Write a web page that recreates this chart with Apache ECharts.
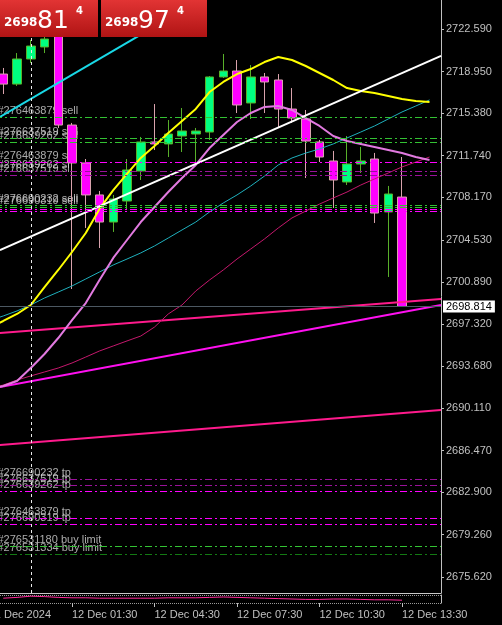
<!DOCTYPE html>
<html>
<head>
<meta charset="utf-8">
<title>XAUUSD M30</title>
<script src="https://cdn.jsdelivr.net/npm/echarts@6/dist/echarts.min.js"></script>
<style>
  html, body { margin: 0; padding: 0; background: #000; }
  #chart { width: 502px; height: 625px; }
</style>
</head>
<body>
<div id="chart"></div>
<script>
// bar index 0 = 11 Dec 22:30, one bar every 30 minutes
var barIdx = [1, 2, 3, 4, 5, 6, 7, 8, 9, 10, 11, 12, 13, 14, 15, 16, 17, 18, 19, 20, 21, 22, 23, 24, 25, 26, 27, 28, 29, 30]
var opens = [2718.73, 2717.87, 2720.02, 2721.05, 2721.99, 2714.36, 2711.11, 2708.37, 2706.05, 2707.85, 2710.42, 2712.91, 2712.74, 2713.42, 2713.59, 2713.76, 2718.48, 2718.99, 2716.25, 2718.48, 2718.22, 2715.73, 2714.88, 2712.91, 2711.28, 2709.48, 2711.02, 2711.45, 2706.91, 2708.19]
var closes = [2717.87, 2720.02, 2721.13, 2721.73, 2714.36, 2711.11, 2708.37, 2706.05, 2708.02, 2710.51, 2712.91, 2712.74, 2713.59, 2713.85, 2713.85, 2718.48, 2718.99, 2716.08, 2718.48, 2718.05, 2715.73, 2714.96, 2712.99, 2711.62, 2709.65, 2711.02, 2711.28, 2706.82, 2708.45, 2698.814]
var lows = [2717.02, 2717.71, 2719.68, 2720.53, 2714.11, 2700.31, 2705.54, 2703.82, 2705.20, 2707.08, 2709.65, 2712.22, 2711.62, 2712.05, 2711.11, 2713.08, 2718.39, 2715.39, 2714.88, 2715.39, 2714.19, 2714.54, 2709.82, 2711.19, 2707.25, 2709.22, 2710.25, 2705.97, 2701.34, 2698.814]
var highs = [2719.25, 2720.53, 2721.65, 2721.99, 2722.50, 2714.54, 2711.45, 2708.71, 2708.37, 2711.45, 2713.34, 2716.16, 2714.79, 2715.82, 2714.11, 2718.56, 2720.45, 2719.93, 2719.50, 2718.82, 2718.73, 2717.53, 2715.65, 2713.08, 2712.14, 2713.42, 2712.48, 2711.97, 2709.14, 2711.62]

// moving averages (drawn 2 bars ahead of price)
var maIdx = [0, 1, 2, 3, 4, 5, 6, 7, 8, 9, 10, 11, 12, 13, 14, 15, 16, 17, 18, 19, 20, 21, 22, 23, 24, 25, 26, 27, 28, 29, 30, 31, 32]
var maYellow = [2697.0, 2697.57, 2698.17, 2698.94, 2700.48, 2701.94, 2703.48, 2705.11, 2707.17, 2708.79, 2710.17, 2711.54, 2712.56, 2713.68, 2714.71, 2715.74, 2717.19, 2718.05, 2718.73, 2719.16, 2719.76, 2720.19, 2719.93, 2719.42, 2718.82, 2718.22, 2717.53, 2717.28, 2717.11, 2716.85, 2716.59, 2716.42, 2716.34]
var maViolet = [2691.7, 2692.00, 2692.43, 2693.54, 2694.74, 2696.11, 2697.65, 2699.11, 2701.08, 2702.97, 2704.51, 2706.05, 2707.34, 2708.62, 2709.82, 2710.94, 2712.39, 2713.51, 2714.62, 2715.39, 2715.91, 2715.99, 2715.65, 2714.96, 2714.28, 2713.42, 2712.99, 2712.74, 2712.48, 2712.22, 2711.96, 2711.62, 2711.36]
var maTeal = [2697.6, 2698.00, 2698.43, 2698.94, 2699.54, 2700.05, 2700.57, 2701.17, 2701.77, 2702.37, 2702.88, 2703.40, 2704.00, 2704.68, 2705.37, 2706.05, 2706.91, 2707.68, 2708.37, 2709.14, 2709.99, 2710.94, 2711.54, 2711.96, 2712.31, 2712.74, 2713.25, 2713.76, 2714.28, 2714.88, 2715.48, 2715.99, 2716.51]
var maCrimson = [2691.8, 2692.08, 2692.51, 2692.86, 2693.20, 2693.54, 2693.97, 2694.48, 2695.00, 2695.43, 2695.86, 2696.28, 2697.05, 2698.17, 2698.94, 2700.14, 2701.08, 2701.94, 2702.88, 2703.74, 2704.60, 2705.54, 2706.40, 2706.99, 2707.59, 2708.11, 2708.62, 2709.22, 2709.74, 2710.25, 2710.77, 2711.19, 2711.62]

// small oscillator sub-window
var oscValues = [6, 7, 8.5, 8, 7, 6.5, 6.5, 6, 6, 6, 6, 6, 6.5, 6.5, 6.5, 7, 7.5, 7, 6.5, 6, 5.5, 5, 4.5, 4.5, 5, 5, 4.5, 4, 4, 3.5]

var priceTicks = [2722.590, 2718.950, 2715.380, 2711.740, 2708.170, 2704.530, 2700.890, 2697.320, 2693.680, 2690.110, 2686.470, 2682.900, 2679.260, 2675.620]
var timeTickIdx = [0, 6, 12, 18, 24, 30]
var timeLabels = ['11 Dec 2024', '12 Dec 01:30', '12 Dec 04:30', '12 Dec 07:30', '12 Dec 10:30', '12 Dec 13:30']
var separatorIdx = 3

var bid = 2698.814
var ask = 2698.974

// trend lines: [barIdx, price] pairs
var trendWhite = [[0.76, 2703.65], [32.84, 2720.28]]
var trendCyan = [[0.76, 2715.05], [15.31, 2725.07]]
var trendPinkUpper = [[0.76, 2696.54], [32.84, 2699.45]]
var trendMagenta = [[0.76, 2691.91], [32.84, 2698.94]]
var trendPinkLower = [[0.76, 2686.94], [32.84, 2689.94]]

// order levels
var orderPrices = [2715.05, 2713.25, 2712.91, 2711.19, 2710.42, 2710.08, 2707.51, 2707.34, 2707.17, 2707.00, 2684.03, 2683.52, 2683.00, 2680.69, 2680.17, 2678.29, 2677.60]
var orderNames = ['#276463879 sell', '#276637519 sell', '#276639262 sell', '#276463879 sl', '#276639262 sl', '#276637519 sl',
  '#276690232 sell', '#276690319 sell', '', '', '#276690232 tp', '#276637519 tp', '#276639262 tp', '#276463879 tp',
  '#276690319 tp', '#276531180 buy limit', '#276531334 buy limit']
var orderKinds = ['open', 'open', 'open', 'stop', 'stopDim', 'stopDim', 'open', 'open', 'stop', 'stop',
  'stopDim', 'stopDim', 'stop', 'stop', 'stop', 'open', 'limit']

var kindColors = { open: '#33c233', stop: '#ff00ff', stopDim: '#9a129a', limit: '#137a13' }
var dashDot = [7, 3, 2, 3]
var font = 'Liberation Sans'
var axisGray = '#c0c0c0'

var xMin = -0.691
var xMax = 32.836

var candles = barIdx.map(function (b, k) {
  return [b, opens[k], closes[k], lows[k], highs[k]]
})

function pairs (ys) {
  return maIdx.map(function (b, k) { return [b, ys[k]] })
}

function maLine (name, ys, color, width) {
  return {
    name: name,
    type: 'line',
    data: pairs(ys),
    showSymbol: false,
    symbol: 'none',
    z: 4,
    lineStyle: { color: color, width: width }
  }
}

function trend (name, pts, color) {
  return {
    name: name,
    type: 'line',
    data: pts,
    showSymbol: false,
    symbol: 'none',
    z: 4,
    lineStyle: { color: color, width: 2 }
  }
}

var chart = echarts.init(document.getElementById('chart'))

var redBox = new echarts.graphic.LinearGradient(0, 0, 0, 1, [
  { offset: 0, color: '#e23434' },
  { offset: 1, color: '#b01414' }
])

function quoteParts (v) {
  var s = v.toFixed(3)
  return [s.slice(0, 4), s.slice(5, 7), s.slice(7)]
}

function quoteBox (v, x0, w) {
  var p = quoteParts(v)
  return [
    { type: 'rect', x: x0, y: 0, shape: { width: w, height: 37 }, style: { fill: redBox }, z: 100 },
    { type: 'text', x: x0 + 4, y: 23, z: 101, style: { text: p[0], fill: '#fff', font: 'bold 12px "DejaVu Sans"', verticalAlign: 'middle' } },
    { type: 'text', x: x0 + 37, y: 21, z: 101, style: { text: p[1], fill: '#fff', font: '25px "DejaVu Sans"', verticalAlign: 'middle' } },
    { type: 'text', x: x0 + 76, y: 11, z: 101, style: { text: p[2], fill: '#fff', font: 'bold 10px "DejaVu Sans"', verticalAlign: 'middle' } }
  ]
}

var option = {
  backgroundColor: '#000',
  animation: false,
  grid: [
    { left: -20, right: 61, top: 0, bottom: 32, outerBoundsMode: 'none', containLabel: false },
    { left: -20, right: 61, top: 595, height: 8, outerBoundsMode: 'none', containLabel: false }
  ],
  xAxis: [
    {
      type: 'value',
      gridIndex: 0,
      min: xMin,
      max: xMax,
      axisLine: { show: true, onZero: false, lineStyle: { color: '#c8c8c8', width: 1 } },
      axisTick: { show: false },
      axisLabel: { show: false },
      splitLine: { show: false }
    },
    {
      type: 'value',
      gridIndex: 1,
      min: xMin,
      max: xMax,
      axisLine: { show: false, onZero: false },
      axisTick: { show: true, customValues: timeTickIdx, length: 4, lineStyle: { color: axisGray } },
      axisLabel: {
        show: true,
        customValues: timeTickIdx,
        margin: 6,
        align: 'left',
        color: axisGray,
        fontSize: 11,
        fontFamily: font,
        formatter: function (v) {
          var k = timeTickIdx.indexOf(Math.round(v))
          return k < 0 ? '' : timeLabels[k]
        }
      },
      splitLine: { show: false }
    }
  ],
  yAxis: [
    {
      type: 'value',
      gridIndex: 0,
      position: 'right',
      min: 2674.261,
      max: 2725.075,
      axisLine: { show: true, onZero: false, lineStyle: { color: axisGray } },
      axisTick: { show: true, customValues: priceTicks, length: 3, lineStyle: { color: axisGray } },
      axisLabel: {
        customValues: priceTicks,
        margin: 5,
        color: axisGray,
        fontSize: 11,
        fontFamily: font,
        formatter: function (v) { return v.toFixed(3) }
      },
      splitLine: { show: false }
    },
    {
      type: 'value',
      gridIndex: 1,
      position: 'right',
      min: 0,
      max: 10,
      interval: 10,
      axisLine: { show: true, onZero: false, lineStyle: { color: axisGray } },
      axisTick: { show: false },
      axisLabel: { show: false },
      splitLine: { show: true, lineStyle: { color: '#9a9a9a', type: [1, 1] } }
    }
  ],
  series: [
    {
      name: 'orders',
      type: 'scatter',
      data: orderPrices.map(function (p) { return [0.545, p] }),
      symbolSize: 1,
      itemStyle: { color: 'rgba(0,0,0,0)' },
      z: 1,
      label: {
        show: true,
        position: 'right',
        distance: 0,
        offset: [0, -6],
        color: '#d6d6d6',
        fontSize: 11,
        fontFamily: font,
        formatter: function (prm) { return orderNames[prm.dataIndex] }
      },
      markLine: {
        silent: true,
        symbol: ['none', 'none'],
        label: { show: false },
        data: orderPrices.map(function (p, k) {
          return { yAxis: p, lineStyle: { color: kindColors[orderKinds[k]], type: dashDot, width: 1 } }
        })
      }
    },
    trend('pink upper', trendPinkUpper, '#ff1a8c'),
    trend('magenta', trendMagenta, '#ff10f0'),
    trend('pink lower', trendPinkLower, '#ff1a8c'),
    {
      name: 'XAUUSD',
      type: 'candlestick',
      data: candles,
      barWidth: 9,
      z: 3,
      itemStyle: {
        color: '#00ff80',
        color0: '#ff00ff',
        borderColor: '#58b02a',
        borderColor0: '#d9a3ad',
        borderWidth: 1
      },
      markLine: {
        silent: true,
        symbol: ['none', 'none'],
        data: [
          {
            yAxis: bid,
            lineStyle: { color: '#4c5862', type: 'solid', width: 1 },
            label: {
              show: true,
              position: 'end',
              distance: 2,
              formatter: bid.toFixed(3),
              backgroundColor: '#fff',
              color: '#000',
              padding: [1, 3, 0, 3],
              fontSize: 11,
              fontFamily: font
            }
          },
          {
            xAxis: separatorIdx,
            lineStyle: { color: '#e8e8e8', type: [3, 3], width: 1 },
            label: { show: false }
          }
        ]
      }
    },
    maLine('MA teal', maTeal, '#1fb0bd', 1),
    maLine('MA crimson', maCrimson, '#c4186c', 1),
    maLine('MA violet', maViolet, '#e27ae0', 2),
    maLine('MA yellow', maYellow, '#ffff00', 2),
    trend('white', trendWhite, '#ffffff'),
    trend('cyan', trendCyan, '#19d8e6'),
    {
      name: 'osc',
      type: 'line',
      xAxisIndex: 1,
      yAxisIndex: 1,
      data: barIdx.map(function (b, k) { return [b, oscValues[k]] }),
      showSymbol: false,
      symbol: 'none',
      lineStyle: { color: '#ff2a9a', width: 1 }
    }
  ],
  graphic: quoteBox(bid, 0, 98).concat(quoteBox(ask, 101, 106))
}

chart.setOption(option)
</script>
</body>
</html>
